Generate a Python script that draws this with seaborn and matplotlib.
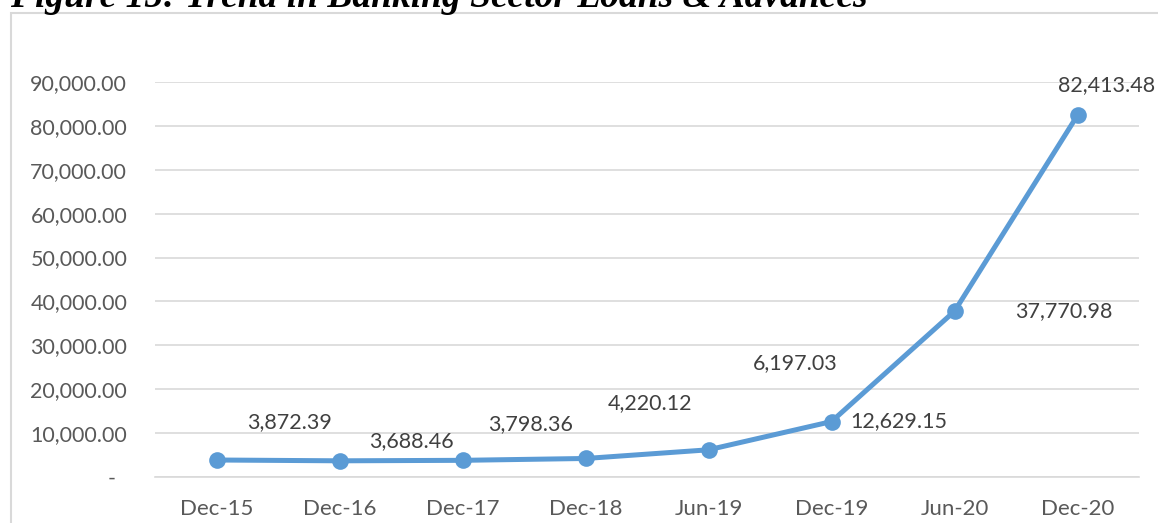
import numpy as np
import pandas as pd
import matplotlib
matplotlib.use('Agg')
from matplotlib import pyplot as plt
from matplotlib.patches import Rectangle
from matplotlib.ticker import FuncFormatter, FixedLocator
import seaborn as sns

# data
periods = ['Dec-15', 'Dec-16', 'Dec-17', 'Dec-18', 'Jun-19', 'Dec-19', 'Jun-20', 'Dec-20']
loans = [3872.39, 3688.46, 3798.36, 4220.12, 6197.03, 12629.15, 37770.98, 82413.48]
# label offsets (pixels) like the excel chart has them
label_dx = [73, 72, 68, 65, 87, 67, 109, 29]
label_dy = [38, 20, 36, 55, 87, 0, 0, 30]

df = pd.DataFrame({'period': periods, 'loans': loans})

sns.set_style('white')
plt.rcParams['font.family'] = ['Lato', 'DejaVu Sans']

W, H = 1158, 523
fig = plt.figure(figsize=(W / 100, H / 100), dpi=100)
ax = fig.add_axes([155 / W, 46 / H, (1139 - 155) / W, (477 - 82) / H])

blue = '#5B9BD5'
grid_c = '#D9D9D9'
txt_c = '#595959'
fs = 15.5

sns.lineplot(data=df, x='period', y='loans', sort=False, color=blue, lw=3.6,
             marker='o', markersize=12, markeredgewidth=0, ax=ax, clip_on=False)

ax.set_xlim(-0.5, len(periods) - 0.5)
ax.set_ylim(0, 90000)
ax.set_yticks(np.arange(0, 90001, 10000))
ax.yaxis.set_major_formatter(FuncFormatter(lambda v, p: '-  ' if v == 0 else f'{v:,.2f}'))
ax.grid(axis='y', color=grid_c, lw=1.2)
ax.set_axisbelow(True)

# category labels in the middle, tick marks on the boundaries
ax.xaxis.set_minor_locator(FixedLocator(np.arange(-0.5, len(periods), 1)))
ax.tick_params(axis='x', which='major', length=0, pad=16, labelsize=fs + 0.5, labelcolor=txt_c)
ax.tick_params(axis='x', which='minor', length=6, width=1.2, color=grid_c, direction='out')
ax.tick_params(axis='y', length=0, pad=20, labelsize=fs, labelcolor=txt_c)

for s in ['top', 'right', 'left']:
    ax.spines[s].set_visible(False)
ax.spines['bottom'].set_color(grid_c)
ax.spines['bottom'].set_linewidth(1.2)
ax.set_xlabel('')
ax.set_ylabel('')

for i, v in enumerate(loans):
    ax.annotate(f'{v:,.2f}', (i, v), xytext=(label_dx[i], label_dy[i]),
                textcoords='offset pixels', ha='center', va='center',
                fontsize=fs, color='#404040', annotation_clip=False)

# outer chart border and the (cut off) figure caption
fig.add_artist(Rectangle((10.5 / W, -0.1), 1.2, 1.1 - 13.5 / H, transform=fig.transFigure,
                         fill=False, edgecolor=grid_c, lw=1.5))
fig.text(10 / W, 1 - 7 / H, 'Figure 15: Trend in Banking Sector Loans & Advances',
         family='Liberation Serif', fontweight='bold', fontstyle='italic',
         fontsize=27, color='black', ha='left', va='baseline')

fig.savefig('out.png', dpi=100)
